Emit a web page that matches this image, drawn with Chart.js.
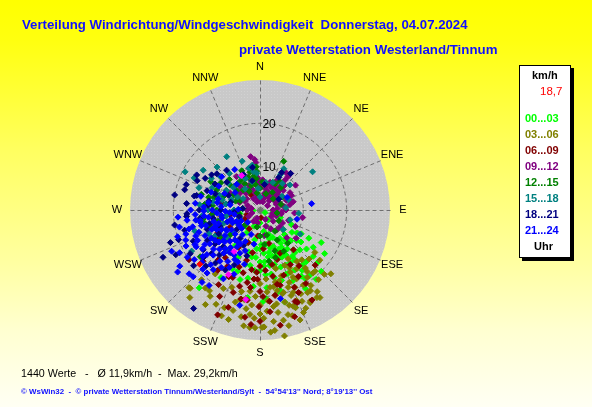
<!DOCTYPE html>
<html>
<head>
<meta charset="utf-8">
<script src="https://cdn.jsdelivr.net/npm/chart.js@4.4.1/dist/chart.umd.min.js"></script>
<style>
  html, body { margin:0; padding:0; }
  #page { position:relative; width:592px; height:407px; overflow:hidden;
    background: linear-gradient(to bottom, #ffff00 0%, #ffff10 10%, #ffff60 37%, #ffffa0 64%, #ffffd0 81%, #fffff4 100%);
    font-family: "Liberation Sans", Arial, sans-serif; }
  #c { position:absolute; left:0; top:0; }
  .t { position:absolute; white-space:pre; transform-origin:0 50%; }
  .title { color:#1010ff; font-weight:bold; font-size:13.2px; line-height:16px; height:16px; }
  #legend { position:absolute; left:519px; top:65px; width:50px; height:191px; background:#fff;
    border:1px solid #000; box-shadow:3px 3px 0 #000; }
  .lg { position:absolute; font-weight:bold; font-size:11px; line-height:14px; height:14px; white-space:pre; }
</style>
</head>
<body>
<div id="page">
  <canvas id="c" width="592" height="407"></canvas>
  <div class="t title" id="title1" style="left:22px; top:17px;">Verteilung Windrichtung/Windgeschwindigkeit  Donnerstag, 04.07.2024</div>
  <div class="t title" id="title2" style="left:239px; top:42px;">private Wetterstation Westerland/Tinnum</div>
  <div id="legend"></div>
  <div class="t" id="foot1" style="left:21px; top:366px; font-size:11px; line-height:14px; color:#000;">1440 Werte   -   Ø 11,9km/h  -  Max. 29,2km/h</div>
  <div class="t" id="foot2" style="left:21px; top:387px; font-size:8px; line-height:10px; color:#1010ff; font-weight:bold;">© WsWin32  -  © private Wetterstation Tinnum/Westerland/Sylt  -  54°54'13'' Nord; 8°19'13'' Ost</div>
</div>
<script>
// ---------------- DATA ----------------
const compassLabels = ['N','NNE','NE','ENE','E','ESE','SE','SSE','S','SSW','SW','WSW','W','WNW','NW','NNW'];
const ringTicks = [10, 20];
const maxSpeed = 30;
const hourGroups = ['00...03','03...06','06...09','09...12','12...15','15...18','18...21','21...24'];
const currentSpeedLabel = '18,7';

// [direction in degrees, speed in km/h]
const wind00_03 = [[141,9.9],[140.5,12.7],[131,16.3],[141,20.6],[146.7,18.9],[160,23.9],[167.5,19.3],[178,21.1],[185,17.7],[188,20.4],
 [260,4.7],[266,1.6],[117,1.3],[218,22.8],[196,16.7],[176,20.5],[150,8],[155,10],[160,9],[165,11],[170,8],[175,10],[180,12],[160,12],
 [150,12],[145,14],[155,14],[165,14],[170,13],[175,15],[180,9],[185,11],[190,13],[195,10],[200,8],[205,12],[210,6],[190,7],[180,6],
 [170,5],[160,6],[150,5],[140,6],[130,7],[125,9],[120,11],[135,10],[135,13],[130,14],[145,11],[150,16],[158,16],[163,17],[168,16],
 [185,14],[190,16],[200,15],[210,18],[175,18],[155,18],[145,17],[125,15],[120,13],[115,8],[110,5],[100,3],[140,3],[180,3],[200,4],
 [220,5],[230,8],[215,10],[205,15],[135,20],[150,21],[165,22],[172,6],[158,4],[148,9],[162,7],[178,8],[152,11],[168,10],[142,16],
 [150,10],[155,7],[160,11],[165,9],[170,11],[175,12],[180,14],[185,9],[145,8],[140,9],[135,8],[130,11],[140,12],[145,13],[150,14],
 [155,12],[160,14],[165,13],[170,15],[138,16],[128,12],[122,10],[190,11],[195,13],[185,16],[176,13],[166,19],[156,16],[148,18],[143,19],
 [118,16],[124,18],[132,18]];
const wind03_06 = [[154,16],[155.7,19.6],[151,24],[155.3,23.2],[147,24.1],[176,23.4],[185.5,24.2],[196,26.3],[185,27.2],[179,27.1],
 [173,25.9],[169,29.6],[221.7,24.2],[218.7,25.9],[210,25.2],[192.7,19.3],[172.6,18],[164,19.8],[153.9,17.3],[145.6,24.5],[142.6,17.9],
 [127.7,16],[144.3,14.6],[151.6,24.3],[157,25.7],[161,23.5],[192.6,21.2],[187,18.9],[175,28.3],[182.4,27.2],[222.5,24.3],[150,20],
 [160,21],[165,22],[170,20],[175,21],[180,22],[158,18],[162,16],[168,17],[145,19],[140,21],[148,22],[152,18],[165,25],[170,24],
 [178,25],[183,20],[188,23],[195,22],[200,24],[205,20],[190,25],[138,19],[135,16],[130,18],[160,27],[166,27.5],[172,22.5],[156,14],
 [150,13],[165,14],[175,16],[140,15],[180,17],[200,19],[212,22],[215,18],[132,22],[158,20.5],[163,23],[168,19],[146,21],[154,21.5],
 [150,22],[155,25],[160,24],[165,20],[170,22],[175,19],[180,24],[185,22],[190,21],[195,24],[200,26],[205,24],[210,23],[215,22],
 [220,21],[145,23],[140,19],[135,21],[148,16],[153,15],[158,22.5],[163,25.5],[168,26],[173,28],[178,27],[183,25],[188,27],[165,17],
 [160,19],[170,18],[142,17]];
const wind06_09 = [[268,10.2],[265,11.1],[255,11.2],[242,11],[228,17.7],[216,13.6],[209,19.7],[202,26.1],[198,23.6],[188,25],
 [184.5,26.5],[180.6,22.3],[158,23],[156,19.5],[161,12.1],[167.6,12.9],[180,18.8],[195,18.2],[169,15.6],[167,17.6],[174,21.2],
 [174.4,23.6],[159,22.6],[162,25.9],[180,25.7],[151,14.4],[145,15.7],[150,17.7],[183,14.4],[188,13.9],[187,18],[202,16.8],[182,16],
 [172,1.8],[251,3.2],[256,10.7],[230,6],[240,8],[260,7],[200,8],[210,10],[190,10],[175,9],[165,8],[140,12],[135,18],[148,20],
 [170,27],[192,21],[205,22],[220,15],[235,20],[155,11],[195,12],[270,5],[280,9],[300,6],[330,4],[20,3],[210,5],[185,6],
 [175,14],[180,13],[185,16],[190,17],[195,15],[200,14],[205,17],[210,15],[215,17],[220,13],[160,16],[165,18],[170,20],[155,21],
 [150,24],[178,20],[188,21],[198,20],[245,10],[250,12],[235,12],[225,10],[260,9],[255,5],[240,4]];
const wind09_12 = [[354,11.7],[26,5.8],[75,7.6],[325,9.4],[336,6.2],[76,7.9],[84,5.8],[136,8.9],[128,10.6],[20,6.8],[0,5.4],[82,5.6],
 [340,8],[345,10],[350,6],[355,7.5],[5,7],[350,9],[15,4],[30,8],[35,6],[40,9],[45,5],[50,7],[60,6],[65,8],[70,4],[90,6],[95,8],[100,5],
 [110,7],[115,9],[120,6],[140,6],[150,5],[160,4],[170,6],[190,3],[210,3],[240,3],[270,3],[300,4],[310,6],[315,8],[320,5],[330,7],
 [0,2],[20,3],[45,3],[60,2],[90,3],[120,3],[352,8],[10,3],[330,3],[350,3],[300,8],[290,5],[35,10.5],[355,11],[55,10],[40,11],[350,12.5],
 [100,10],[15,6],[345,4],[35,3.5],[70,6.5],[105,3],[130,4],
 [330,5.5],[340,5],[355,6.5],[5,5.5],[15,5],[25,4.5],[35,4],[45,6],[55,5],[65,4.5],[75,5],[85,4],[95,5],[350,7],[0,6.5],[355,7.5],
 [30,7.5],[30,6.5],[40,7],[50,5.5],[60,8],[80,7],[320,7],[310,4],[290,3],[280,2],[250,2],[200,2],[150,2.5],[130,6],[110,4],[20,2],
 [340,2],[60,4],[45,8],[40,10]];
const wind12_15 = [[26,12.5],[327,8.1],[353,7.3],[30,7],[43,7.1],[287,10.8],[276,12.8],[300,13.1],[284,12.2],[261,13.3],[257,13.2],
 [252,12.2],[239,12.7],[232,17.5],[173,8],[162,11.5],[300,9],[310,7],[320,6],[330,5],[340,6],[350,4],[0,5],[10,6],[35,8],[20,4],
 [35,5],[50,4],[290,6],[280,8],[270,10],[265,7],[260,5],[250,8],[245,10],[240,6],[230,9],[225,5],[305,11],[315,10],[335,10],[345,9],
 [350,8],[355,10],[295,5],[275,4],[285,14],[270,13],[180,6],[150,8],[140,10],[170,12],[190,4],[120,5],[100,4],[75,5],[60,6],
 [290,9],[300,7],[310,9],[320,8],[330,7],[340,8],[350,6],[355,9],[5,6.5],[25,7],[275,11],[265,11],[255,10],[245,7],[235,11],
 [225,12],[295,11],[285,11],[160,10],[150,11],[145,6],[165,6]];
const wind15_18 = [[328,14.5],[297,19.4],[54,15],[121,10.8],[108,7.3],[296,16.9],[303,13.4],[295,12.2],[310,9.6],[344,6.8],[12,6.5],
 [304,4.7],[58,6],[264,13.5],[239,18.4],[252,15.8],[267,9.9],[280,11],[285,9],[290,7],[300,6],[315,8],[320,11],[335,8],[340,12],
 [350,9],[355,5],[355,8.5],[30,9.5],[30,11],[40,8],[70,7],[85,6],[95,9],[130,7],[260,8],[255,11],[245,13],[275,14],[270,6],[310,12],
 [325,6],[0,3],[250,5],[230,10],[220,12],
 [300,9],[310,8],[290,10],[280,8],[270,12],[260,11],[250,9],[240,12],[330,9],[345,10],[350,10.5],[25,7],[50,9],[290,15],[305,16],[315,14]];
const wind18_21 = [[299,16.7],[282,15.5],[267,16.9],[244,24.9],[214,27.4],[300,14.6],[306,13.8],[30,8.7],[283,15],[290,13],[275,12],
 [262,14],[255,12],[248,10],[240,11],[233,13],[228,15],[222,14],[215,12],[210,16],[205,14],[270,9],[285,7],[295,8],[310,10],[320,12],
 [335,9],[345,7],[10,6],[350,10],[30,10],[255,18],[245,17],[238,19],[260,20],[250,22],[230,20],[224,18],[265,6],[252,5],[275,4],
 [230,7],[215,8],[205,9],[196,11],[40,11],[60,5],[280,20],[289,18],
 [280,12],[270,14],[260,11],[250,13],[240,14],[235,16],[225,12],[290,11],[300,12],[310,13],[295,16],[285,18],[275,17],[265,17],
 [250,20],[242,22],[230,17],[220,16]];
const wind21_24 = [[258,19],[255,17],[250,15],[245,14],[240,13],[236,12.5],[232,12],[228,11],[224,10],[220,9],[252,10],[262,12],
 [266,15],[270,11],[268,8],[275,9],[280,7],[285,10],[290,12],[295,9],[300,11],[311,11.7],[328,11],[318,8],[305,7],[260,6],[245,7],
 [235,8],[225,6],[215,7],[210,9],[205,11],[207,12.8],[212,14],[218,15],[222,17],[228,18],[233,19],[237,20],[242,21],[245,22.5],
 [233,23.8],[228,22],[214,21],[192,22.5],[220,19],[240,17],[248,18.5],[252,20],[256,16],[262,17],[265,19],[270,16],[273,13],[278,12],
 [283,14],[248,12],[243,10],[238,9],[230,14],[226,13],[218,11],[212,10],[200,10],[196,13],[202,16],[208,18],[65,6.9],[104,8.8],
 [83,12],[167,21],[230,16],[238,15],[250,8],[258,9],[265,7],[272,5],[240,5],[225,4],[200,6],[190,8],[235,22.6],[225,21.8],[218.7,21.4],
 [260,14],[244,16],[234,10],[254,13],
 [240,9],[246,11],[252,7],[256,11],[262,9],[266,10],[230,11],[222,12],[216,12],[210,12],[205,8],[215,9],[226,8],[234,6],[244,6],
 [250,11],[255,14],[261,15],[248,16],[242,17],[236,16],[231,17],[226,15],[220,13],[214,16],[208,15],[203,13],[236,14],[244,19],
 [252,18],[258,14],[264,13],[269,13],[280,10],[276,15],[224,19],[218,17.5]];
const windMagenta = [[332,9],[206,16.6],[189,20.9],[212,11.3]];
const windCurrent = [[228,18.7]];

// ---------------- STYLE ----------------
const groupColors = ['#00ff00','#808000','#800000','#800080','#008000','#008080','#000080','#0000ff'];
const groupData = [wind00_03, wind03_06, wind06_09, wind09_12, wind12_15, wind15_18, wind18_21, wind21_24];

// ---------------- LEGEND (HTML) ----------------
const legend = document.getElementById('legend');
function addLg(text, color, leftPage, centerY, bold) {
  const d = document.createElement('div');
  d.className = 'lg';
  d.textContent = text;
  d.style.color = color;
  d.style.left = (leftPage - 520) + 'px';
  d.style.top = (centerY - 66 - 7) + 'px';
  if (!bold) d.style.fontWeight = 'normal';
  legend.appendChild(d);
  return d;
}
addLg('km/h', '#000', 532, 75, true);
addLg(currentSpeedLabel, '#ff0000', 540, 91, false).style.fontSize = '11.5px';
hourGroups.forEach((g, i) => addLg(g, groupColors[i], 525, 118 + i * 16, true));
addLg('Uhr', '#000', 534, 246, true);

function fit(id, w) {
  const el = document.getElementById(id);
  const cur = el.scrollWidth;
  if (cur > 0) el.style.transform = 'scaleX(' + (w / cur) + ')';
}
fit('title1', 446); fit('title2', 258); fit('foot1', 217); fit('foot2', 351);

// ---------------- CHART ----------------
const toXY = ([d, s]) => ({ x: s * Math.sin(d * Math.PI / 180), y: s * Math.cos(d * Math.PI / 180) });

const datasets = groupData.map((arr, i) => ({
  label: hourGroups[i],
  data: arr.map(toXY),
  backgroundColor: groupColors[i],
  borderColor: groupColors[i],
  pointStyle: 'rectRot',
  pointRadius: 3,
  pointBorderWidth: 1,
  order: 20 - i
}));
datasets.push({ label: 'extra', data: windMagenta.map(toXY), backgroundColor: '#ff00ff', borderColor: '#ff00ff',
  pointStyle: 'rectRot', pointRadius: 3, pointBorderWidth: 1, order: 2 });
datasets.push({ label: 'aktuell', data: windCurrent.map(toXY), backgroundColor: '#ff0000', borderColor: '#ff0000',
  pointStyle: 'rectRot', pointRadius: 3, pointBorderWidth: 1, order: 1 });

function makePattern(ctx) {
  const pc = document.createElement('canvas');
  pc.width = 3; pc.height = 3;
  const p = pc.getContext('2d');
  p.fillStyle = '#c9c9c9'; p.fillRect(0, 0, 3, 3);
  p.fillStyle = '#d2d2d2'; p.fillRect(1, 1, 1, 1);
  return ctx.createPattern(pc, 'repeat');
}

const polarGrid = {
  id: 'polarGrid',
  beforeDatasetsDraw(chart) {
    const { ctx, scales: { x, y } } = chart;
    const cx = x.getPixelForValue(0), cy = y.getPixelForValue(0);
    const R = x.getPixelForValue(maxSpeed) - cx;
    ctx.save();
    ctx.fillStyle = makePattern(ctx);
    ctx.beginPath(); ctx.arc(cx, cy, R, 0, Math.PI * 2); ctx.fill();
    ctx.strokeStyle = '#6e6e6e';
    ctx.lineWidth = 1;
    ctx.setLineDash([4, 3]);
    ringTicks.forEach(v => {
      const r = x.getPixelForValue(v) - cx;
      ctx.beginPath(); ctx.arc(cx, cy, r, 0, Math.PI * 2); ctx.stroke();
    });
    compassLabels.forEach((lab, i) => {
      const a = i * 22.5 * Math.PI / 180;
      ctx.beginPath();
      ctx.moveTo(cx + 0.5, cy + 0.5);
      ctx.lineTo(x.getPixelForValue(maxSpeed * Math.sin(a)) + 0.5, y.getPixelForValue(maxSpeed * Math.cos(a)) + 0.5);
      ctx.stroke();
    });
    ctx.setLineDash([]);
    ctx.fillStyle = '#000';
    ctx.font = '11px "Liberation Sans", Arial, sans-serif';
    ctx.textAlign = 'center';
    ctx.textBaseline = 'middle';
    const labR = maxSpeed * 1.1;
    compassLabels.forEach((lab, i) => {
      const a = i * 22.5 * Math.PI / 180;
      ctx.fillText(lab, x.getPixelForValue(labR * Math.sin(a)), y.getPixelForValue(labR * Math.cos(a)));
    });
    ctx.restore();
  },
  afterDatasetsDraw(chart) {
    const { ctx, scales: { x, y } } = chart;
    ctx.save();
    ctx.fillStyle = '#000';
    ctx.font = '12px "Liberation Sans", Arial, sans-serif';
    ctx.textAlign = 'center';
    ctx.textBaseline = 'middle';
    ringTicks.forEach(v => {
      ctx.fillText(String(v), x.getPixelForValue(2.1), y.getPixelForValue(v) + 1);
    });
    ctx.restore();
  }
};

new Chart(document.getElementById('c'), {
  type: 'scatter',
  data: { datasets },
  options: {
    responsive: false,
    animation: false,
    devicePixelRatio: 1,
    layout: { padding: { left: 130, right: 202, top: 80, bottom: 67 } },
    scales: {
      x: { type: 'linear', min: -maxSpeed, max: maxSpeed, display: false },
      y: { type: 'linear', min: -maxSpeed, max: maxSpeed, display: false }
    },
    plugins: { legend: { display: false }, tooltip: { enabled: false } },
    elements: { point: { hoverRadius: 3 } }
  },
  plugins: [polarGrid]
});
</script>
</body>
</html>
